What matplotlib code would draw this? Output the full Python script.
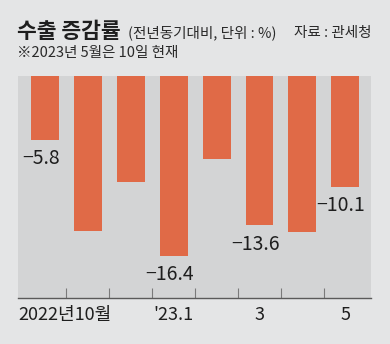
import matplotlib.pyplot as plt
from matplotlib.ticker import FixedLocator

plt.rcParams['font.family'] = ['Noto Sans CJK KR', 'DejaVu Sans']

# 월별 수출 증감률 (전년동기대비, %)
months = ['2022.10', '11', '12', '2023.1', '2', '3', '4', '5']
values = [-5.8, -14.1, -9.7, -16.4, -7.6, -13.6, -14.2, -10.1]
labeled = [0, 3, 5, 7]
tick_pos = [0.47, 3, 5, 7]
tick_labels = ['2022년10월', "'23.1", '3', '5']

fig = plt.figure(figsize=(3.9, 3.44), dpi=100, facecolor='#e4e5e6')
ax = fig.add_axes([18/390, 46/344, 353/390, 222/344])
ax.set_facecolor('#d3d4d5')

x = list(range(len(values)))
ax.bar(x, values, width=0.65, color='#e06a47', zorder=2)

for i in labeled:
    ax.annotate(f'\u2212{abs(values[i])}', (x[i] - 0.1, values[i]),
                xytext=(0, -6), textcoords='offset points',
                ha='center', va='top', fontsize=14, fontweight='medium',
                color='#1e1e1e')

ax.set_xlim(-0.63, 7.6)
ax.set_ylim(-20.24, 0)
for s in ['top', 'left', 'right']:
    ax.spines[s].set_visible(False)
ax.spines['bottom'].set_color('#5a5a5a')
ax.spines['bottom'].set_linewidth(1)
ax.set_yticks([])
ax.set_xticks(tick_pos)
ax.set_xticklabels(tick_labels, fontsize=13, color='#1e1e1e')
ax.tick_params(axis='x', which='major', length=0, pad=6)
ax.xaxis.set_minor_locator(FixedLocator([i + 0.5 for i in range(7)]))
ax.tick_params(axis='x', which='minor', direction='in', length=7,
               width=0.8, color='#7a7a7a')

fig.text(17/390, 1 - 38/344, '수출 증감률', fontsize=15.5, fontweight='bold',
         color='#1e1e1e', va='baseline')
fig.text(128/390, 1 - 37/344, '(전년동기대비, 단위 : %)', fontsize=10.5,
         color='#2a2a2a', va='baseline')
fig.text(371/390, 1 - 37/344, '자료 : 관세청', fontsize=10.5,
         color='#2a2a2a', va='baseline', ha='right')
fig.text(17/390, 1 - 57/344, '※2023년 5월은 10일 현재', fontsize=10.5,
         color='#2a2a2a', va='baseline')

fig.savefig('out.png', dpi=100, facecolor=fig.get_facecolor())
